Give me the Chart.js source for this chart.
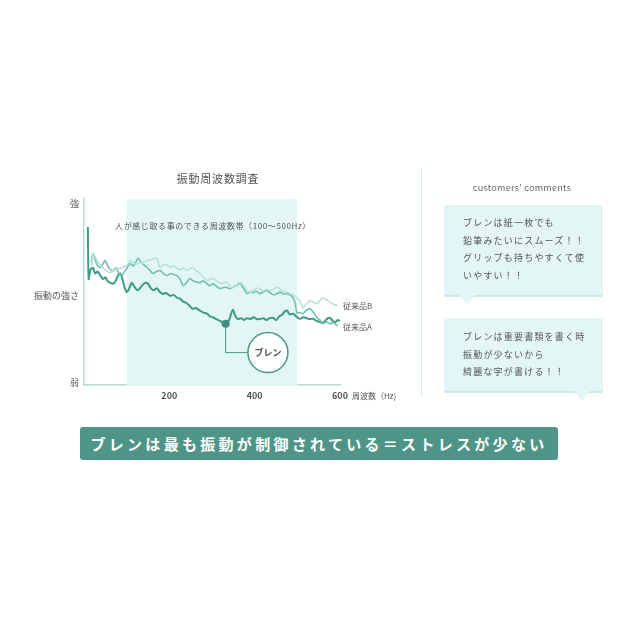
<!DOCTYPE html>
<html>
<head>
<meta charset="utf-8">
<script src="https://cdn.jsdelivr.net/npm/chart.js@4"></script>
<style>
  html, body { margin: 0; padding: 0; background: #fff; }
  body { width: 640px; height: 640px; position: relative; overflow: hidden;
         font-family: 'Noto Sans CJK JP', 'Noto Sans', sans-serif; color: #555; }
  #wrap { position: absolute; left: 0; top: 0; width: 640px; height: 640px; }
  .divider { position: absolute; left: 421px; top: 168px; width: 1px; height: 229px; background: #cfeae6; }
  .cc { position: absolute; left: 422px; width: 200px; top: 181px; text-align: center;
        font-size: 9px; letter-spacing: 0.3px; color: #666; }
  .box { position: absolute; left: 444px; width: 159px; background: #e3f6f5;
         box-shadow: 0 2px 0 #cde8e4; border-radius: 2px;
         font-size: 9px; letter-spacing: 1.2px; line-height: 17.5px; color: #555;
         box-sizing: border-box; padding-left: 19px; }
  .box:after { content: ''; position: absolute; bottom: -10px; border-left: 8px solid transparent;
               border-right: 8px solid transparent; border-top: 10px solid #e3f6f5; }
  #b1 { top: 205px; height: 90px; padding-top: 9px; }
  #b1:after { left: 15px; }
  #b2 { top: 318px; height: 73px; padding-top: 10px; }
  #b2:after { left: 130px; }
  .banner { position: absolute; left: 80px; top: 427px; width: 478px; height: 33px;
            background: #4e9587; border-radius: 3px; color: #fff; font-weight: bold;
            font-size: 15px; letter-spacing: 3.3px; text-align: center; line-height: 33px; }
</style>
</head>
<body>
<div id="wrap"><canvas id="vibChart"></canvas></div>
<div class="divider"></div>
<div class="cc">customers’ comments</div>
<div class="box" id="b1">ブレンは紙一枚でも<br>鉛筆みたいにスムーズ！！<br>グリップも持ちやすくて使<br>いやすい！！</div>
<div class="box" id="b2">ブレンは重要書類を書く時<br>振動が少ないから<br>綺麗な字が書ける！！</div>
<div class="banner">ブレンは最も振動が制御されている＝ストレスが少ない</div>
<script>
// 周波数 (Hz) と振動の強さ (0 = 弱, 100 = 強)
const breneHz = [9, 11, 15, 21, 26, 32, 38, 45, 50, 55, 62, 68, 74, 80, 85, 90, 96, 101, 106, 112,
  118, 125, 131, 138, 144, 150, 157, 163, 171, 178, 185, 192, 202, 210, 218, 225, 232, 241, 248, 255,
  262, 272, 280, 288, 295, 302, 310, 319, 325, 332, 338, 343, 349, 355, 361, 368, 375, 382, 390, 398,
  405, 412, 420, 428, 435, 443, 450, 458, 465, 470, 476, 482, 490, 497, 506, 514, 522, 530, 537, 545,
  552, 560, 567, 572, 577, 583, 590, 595, 600];
const breneVal = [85, 57, 62, 63, 60, 61, 59, 57, 58, 56, 55, 54.5, 56, 59, 60, 57, 52, 50, 52, 55,
  53, 51, 52, 54, 55, 54.5, 52, 51, 52, 50, 49, 49.5, 48, 48.5, 47, 46.5, 45, 44, 42.5, 41,
  41.5, 40, 39, 38.5, 37, 36.5, 35.5, 34.5, 33.5, 33, 34, 37, 40.5, 37, 35.5, 36, 35, 36, 35.5, 36.5,
  35.5, 35.5, 36, 35, 36, 36.2, 35, 37, 38, 39.5, 40, 38, 38.4, 37, 35.7, 36.5, 36, 35.5, 35.7, 34.5,
  34, 33.5, 35, 36, 36.2, 34.5, 34, 35, 34.5];

const aHz = [17, 21, 28, 37, 44, 49, 56, 62, 68, 75, 82, 89, 95, 101, 108, 115, 121, 127, 134, 141,
  148, 155, 162, 170, 178, 186, 195, 203, 210, 218, 225, 232, 240, 248, 256, 264, 272, 280, 288, 295,
  303, 311, 319, 327, 334, 342, 350, 358, 366, 374, 382, 389, 396, 404, 412, 420, 429, 437, 445, 452,
  460, 468, 476, 483, 490, 495, 499, 506, 513, 520, 530, 538, 546, 553, 560, 568, 577, 585, 590, 595];
const aVal = [66, 70.8, 66, 63.2, 65, 67, 64, 62, 61.6, 63, 60, 58.9, 61, 63, 65.4, 64, 66, 68.1, 66, 64.5,
  63.2, 61.5, 60, 61, 61.6, 60, 58.9, 60, 59.5, 58.9, 57, 53.5, 55, 57.3, 56, 55.5, 55.1, 56, 54.5, 53.5,
  54.5, 53, 51.9, 52.5, 52.5, 51.9, 52.8, 53.5, 54.6, 52, 49.2, 50, 49.7, 50.5, 49.2, 50, 50.8, 49.5, 48.5, 49.2,
  50, 49, 49.2, 48.5, 47, 44, 38.9, 39, 38.4, 40, 41.1, 39, 36.2, 35, 33, 34, 33, 33.5, 32.5, 31.9];

const bHz = [18, 21, 26, 30, 37, 44, 52, 61, 69, 77, 84, 92, 101, 108, 115, 123, 131, 138, 144, 150,
  158, 165, 171, 178, 186, 195, 203, 210, 218, 226, 233, 241, 248, 255, 263, 272, 280, 288, 295, 302,
  310, 318, 326, 334, 341, 349, 356, 363, 370, 378, 389, 396, 404, 412, 420, 428, 436, 444, 452, 459,
  467, 475, 483, 490, 499, 506, 513, 521, 530, 538, 546, 553, 560, 568, 577, 585, 595];
const bVal = [64, 70.8, 69, 67, 65, 63.2, 61.5, 60.5, 61.5, 63, 62.7, 63.5, 64.3, 67, 66, 65, 66, 65.5, 66.5, 67,
  67.5, 68, 68.1, 63.2, 65, 64.3, 63.5, 64, 62.7, 62, 63, 61.6, 62.5, 63.2, 61.5, 60, 58, 56.2, 57, 57.3,
  56, 55, 54.6, 55.5, 53.5, 52.4, 53.5, 55, 54.6, 52, 49.7, 51, 52, 51.9, 50.5, 51.5, 50.8, 51.5, 52.5, 51.9,
  50.5, 50, 49.2, 48.5, 47, 45, 41.6, 43.5, 45.4, 44.5, 43.8, 45.5, 47, 46, 44.3, 43.5, 42.7];

const xTicks = [200, 400, 600];
const seriesNames = ['ブレン', '従来品A', '従来品B'];
const bandRange = [100, 500];

// 注記の位置
const markHz = 332;
const calloutHz = 431;
const calloutVal = 17.5;

const toPts = (xs, ys) => xs.map((x, i) => ({ x: x, y: ys[i] }));

const fontJP = "'Noto Sans CJK JP', 'Noto Sans', sans-serif";

const decoPlugin = {
  id: 'deco',
  beforeDatasetsDraw(chart) {
    const { ctx, chartArea, scales } = chart;
    const x1 = scales.x.getPixelForValue(bandRange[0]);
    const x2 = scales.x.getPixelForValue(bandRange[1]);
    ctx.save();
    ctx.fillStyle = '#e3f6f4';
    ctx.fillRect(x1, chartArea.top, x2 - x1, chartArea.bottom - chartArea.top);
    ctx.restore();
  },
  afterDatasetsDraw(chart) {
    const { ctx, chartArea, scales } = chart;
    const xs = scales.x, ys = scales.y;
    ctx.save();
    ctx.fillStyle = '#555';
    ctx.textBaseline = 'middle';

    // タイトル
    ctx.font = '11px ' + fontJP;
    ctx.letterSpacing = '0.8px';
    ctx.textAlign = 'center';
    ctx.fillText('振動周波数調査', 218, 179);

    // 帯の説明
    ctx.font = '8px ' + fontJP;
    ctx.letterSpacing = '0.6px';
    ctx.fillText('人が感じ取る事のできる周波数帯（100〜500Hz）', 213, 226);

    // 縦軸ラベル
    ctx.font = '9px ' + fontJP;
    ctx.letterSpacing = '0px';
    ctx.textAlign = 'right';
    ctx.fillText('強', 79, ys.getPixelForValue(100) + 5);
    ctx.fillText('振動の強さ', 79, ys.getPixelForValue(48));
    ctx.fillText('弱', 79, ys.getPixelForValue(0) - 3);

    // 横軸タイトル
    ctx.textAlign = 'left';
    ctx.font = '8px ' + fontJP;
    ctx.fillText('周波数（Hz)', chartArea.right + 12, chartArea.bottom + 11);

    // 系列ラベル
    ctx.fillText(seriesNames[2], chartArea.right + 3, ys.getPixelForValue(bVal[bVal.length - 1]));
    ctx.fillText(seriesNames[1], chartArea.right + 3, ys.getPixelForValue(aVal[aVal.length - 1]) + 1);

    // ブレンの注記
    const mi = breneHz.indexOf(markHz);
    const mx = xs.getPixelForValue(markHz), my = ys.getPixelForValue(breneVal[mi]);
    const cx = xs.getPixelForValue(calloutHz), cy = ys.getPixelForValue(calloutVal);
    const r = 20;
    ctx.strokeStyle = '#4b9a88';
    ctx.lineWidth = 1;
    ctx.beginPath();
    ctx.moveTo(mx, my);
    ctx.lineTo(mx, cy);
    ctx.lineTo(cx - r, cy);
    ctx.stroke();
    ctx.fillStyle = '#3f907e';
    ctx.beginPath();
    ctx.arc(mx, my, 4, 0, Math.PI * 2);
    ctx.fill();
    ctx.fillStyle = '#fff';
    ctx.lineWidth = 1.5;
    ctx.beginPath();
    ctx.arc(cx, cy, r, 0, Math.PI * 2);
    ctx.fill();
    ctx.stroke();
    ctx.fillStyle = '#555';
    ctx.font = 'bold 9px ' + fontJP;
    ctx.textAlign = 'center';
    ctx.fillText(seriesNames[0], cx, cy);
    ctx.restore();
  }
};

const ctx = document.getElementById('vibChart').getContext('2d');
new Chart(ctx, {
  type: 'line',
  data: {
    datasets: [{
      label: seriesNames[2],
      data: toPts(bHz, bVal),
      borderColor: '#b6e0d7',
      borderWidth: 1.5,
      pointRadius: 0,
      tension: 0.3
    }, {
      label: seriesNames[1],
      data: toPts(aHz, aVal),
      borderColor: '#6fc1ae',
      borderWidth: 1.6,
      pointRadius: 0,
      tension: 0.3
    }, {
      label: seriesNames[0],
      data: toPts(breneHz, breneVal),
      borderColor: '#3c9a85',
      borderWidth: 2,
      pointRadius: 0,
      tension: 0.3
    }]
  },
  options: {
    responsive: true,
    maintainAspectRatio: false,
    animation: false,
    layout: { padding: { left: 84, right: 300, top: 199, bottom: 234 } },
    plugins: {
      legend: { display: false },
      tooltip: { enabled: false }
    },
    scales: {
      x: {
        type: 'linear',
        min: 0,
        max: 600,
        afterBuildTicks: (axis) => { axis.ticks = xTicks.map(v => ({ value: v })); },
        grid: { display: false, drawTicks: false },
        border: { color: '#b7dcd5', width: 1.5 },
        ticks: {
          padding: 5,
          color: '#555',
          font: { size: 9, family: fontJP, weight: 'bold' }
        }
      },
      y: {
        min: 0,
        max: 100,
        grid: { display: false, drawTicks: false },
        border: { color: '#b7dcd5', width: 1.5 },
        ticks: { display: false }
      }
    }
  },
  plugins: [decoPlugin]
});
</script>
</body>
</html>
